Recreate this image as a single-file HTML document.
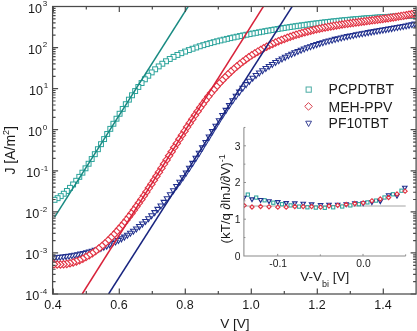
<!DOCTYPE html><html><head><meta charset="utf-8"><style>html,body{margin:0;padding:0;background:#fff;}svg{display:block;filter:blur(0.3px);}text{font-family:"Liberation Sans",sans-serif;fill:#1a1a1a;}</style></head><body>
<svg width="417" height="331" viewBox="0 0 417 331">
<rect width="417" height="331" fill="#fff"/>
<defs><clipPath id="pc"><rect x="52.6" y="6.5" width="363.5" height="287.5"/></clipPath></defs>
<g clip-path="url(#pc)">
<g fill="#fff" stroke="#2aa39b" stroke-width="1">
<rect x="411.59" y="13.24" width="4.9" height="4.9"/>
<rect x="408.99" y="13.33" width="4.9" height="4.9"/>
<rect x="406.39" y="13.43" width="4.9" height="4.9"/>
<rect x="403.79" y="13.53" width="4.9" height="4.9"/>
<rect x="401.19" y="13.64" width="4.9" height="4.9"/>
<rect x="398.59" y="13.75" width="4.9" height="4.9"/>
<rect x="395.99" y="13.87" width="4.9" height="4.9"/>
<rect x="393.39" y="14" width="4.9" height="4.9"/>
<rect x="390.79" y="14.13" width="4.9" height="4.9"/>
<rect x="388.19" y="14.27" width="4.9" height="4.9"/>
<rect x="385.58" y="14.42" width="4.9" height="4.9"/>
<rect x="382.96" y="14.57" width="4.9" height="4.9"/>
<rect x="380.33" y="14.72" width="4.9" height="4.9"/>
<rect x="377.69" y="14.89" width="4.9" height="4.9"/>
<rect x="375.04" y="15.06" width="4.9" height="4.9"/>
<rect x="372.38" y="15.24" width="4.9" height="4.9"/>
<rect x="369.71" y="15.43" width="4.9" height="4.9"/>
<rect x="367.03" y="15.62" width="4.9" height="4.9"/>
<rect x="364.33" y="15.83" width="4.9" height="4.9"/>
<rect x="361.63" y="16.03" width="4.9" height="4.9"/>
<rect x="358.92" y="16.25" width="4.9" height="4.9"/>
<rect x="356.19" y="16.48" width="4.9" height="4.9"/>
<rect x="353.45" y="16.71" width="4.9" height="4.9"/>
<rect x="350.71" y="16.95" width="4.9" height="4.9"/>
<rect x="347.95" y="17.2" width="4.9" height="4.9"/>
<rect x="345.18" y="17.46" width="4.9" height="4.9"/>
<rect x="342.4" y="17.73" width="4.9" height="4.9"/>
<rect x="339.61" y="18" width="4.9" height="4.9"/>
<rect x="336.8" y="18.28" width="4.9" height="4.9"/>
<rect x="333.99" y="18.58" width="4.9" height="4.9"/>
<rect x="331.16" y="18.88" width="4.9" height="4.9"/>
<rect x="328.33" y="19.19" width="4.9" height="4.9"/>
<rect x="325.48" y="19.51" width="4.9" height="4.9"/>
<rect x="322.62" y="19.84" width="4.9" height="4.9"/>
<rect x="319.75" y="20.18" width="4.9" height="4.9"/>
<rect x="316.87" y="20.53" width="4.9" height="4.9"/>
<rect x="313.97" y="20.89" width="4.9" height="4.9"/>
<rect x="311.06" y="21.26" width="4.9" height="4.9"/>
<rect x="308.15" y="21.64" width="4.9" height="4.9"/>
<rect x="305.22" y="22.03" width="4.9" height="4.9"/>
<rect x="302.27" y="22.43" width="4.9" height="4.9"/>
<rect x="299.32" y="22.84" width="4.9" height="4.9"/>
<rect x="296.35" y="23.26" width="4.9" height="4.9"/>
<rect x="293.37" y="23.7" width="4.9" height="4.9"/>
<rect x="290.37" y="24.14" width="4.9" height="4.9"/>
<rect x="287.37" y="24.6" width="4.9" height="4.9"/>
<rect x="284.35" y="25.06" width="4.9" height="4.9"/>
<rect x="281.32" y="25.54" width="4.9" height="4.9"/>
<rect x="278.27" y="26.04" width="4.9" height="4.9"/>
<rect x="275.22" y="26.54" width="4.9" height="4.9"/>
<rect x="272.15" y="27.06" width="4.9" height="4.9"/>
<rect x="269.06" y="27.58" width="4.9" height="4.9"/>
<rect x="265.97" y="28.12" width="4.9" height="4.9"/>
<rect x="262.86" y="28.68" width="4.9" height="4.9"/>
<rect x="259.74" y="29.25" width="4.9" height="4.9"/>
<rect x="256.6" y="29.83" width="4.9" height="4.9"/>
<rect x="253.45" y="30.42" width="4.9" height="4.9"/>
<rect x="250.29" y="31.03" width="4.9" height="4.9"/>
<rect x="247.11" y="31.65" width="4.9" height="4.9"/>
<rect x="243.92" y="32.29" width="4.9" height="4.9"/>
<rect x="240.72" y="32.94" width="4.9" height="4.9"/>
<rect x="237.51" y="33.6" width="4.9" height="4.9"/>
<rect x="234.28" y="34.28" width="4.9" height="4.9"/>
<rect x="231.03" y="34.98" width="4.9" height="4.9"/>
<rect x="227.78" y="35.69" width="4.9" height="4.9"/>
<rect x="224.51" y="36.43" width="4.9" height="4.9"/>
<rect x="221.22" y="37.2" width="4.9" height="4.9"/>
<rect x="217.92" y="38" width="4.9" height="4.9"/>
<rect x="214.59" y="38.84" width="4.9" height="4.9"/>
<rect x="211.21" y="39.73" width="4.9" height="4.9"/>
<rect x="207.79" y="40.66" width="4.9" height="4.9"/>
<rect x="204.34" y="41.65" width="4.9" height="4.9"/>
<rect x="200.83" y="42.71" width="4.9" height="4.9"/>
<rect x="197.29" y="43.82" width="4.9" height="4.9"/>
<rect x="193.71" y="45.02" width="4.9" height="4.9"/>
<rect x="190.07" y="46.29" width="4.9" height="4.9"/>
<rect x="186.38" y="47.65" width="4.9" height="4.9"/>
<rect x="182.63" y="49.12" width="4.9" height="4.9"/>
<rect x="178.82" y="50.72" width="4.9" height="4.9"/>
<rect x="174.96" y="52.49" width="4.9" height="4.9"/>
<rect x="171.08" y="54.43" width="4.9" height="4.9"/>
<rect x="167.28" y="56.53" width="4.9" height="4.9"/>
<rect x="163.54" y="58.81" width="4.9" height="4.9"/>
<rect x="159.86" y="61.28" width="4.9" height="4.9"/>
<rect x="156.25" y="63.96" width="4.9" height="4.9"/>
<rect x="152.7" y="66.84" width="4.9" height="4.9"/>
<rect x="149.22" y="69.95" width="4.9" height="4.9"/>
<rect x="145.8" y="73.29" width="4.9" height="4.9"/>
<rect x="142.43" y="76.85" width="4.9" height="4.9"/>
<rect x="139.12" y="80.6" width="4.9" height="4.9"/>
<rect x="135.88" y="84.53" width="4.9" height="4.9"/>
<rect x="132.69" y="88.62" width="4.9" height="4.9"/>
<rect x="129.55" y="92.84" width="4.9" height="4.9"/>
<rect x="126.45" y="97.2" width="4.9" height="4.9"/>
<rect x="123.35" y="101.75" width="4.9" height="4.9"/>
<rect x="120.25" y="106.47" width="4.9" height="4.9"/>
<rect x="117.15" y="111.31" width="4.9" height="4.9"/>
<rect x="114.05" y="116.27" width="4.9" height="4.9"/>
<rect x="110.95" y="121.31" width="4.9" height="4.9"/>
<rect x="107.85" y="126.4" width="4.9" height="4.9"/>
<rect x="104.75" y="131.52" width="4.9" height="4.9"/>
<rect x="101.65" y="136.63" width="4.9" height="4.9"/>
<rect x="98.55" y="141.73" width="4.9" height="4.9"/>
<rect x="95.45" y="146.77" width="4.9" height="4.9"/>
<rect x="92.35" y="151.73" width="4.9" height="4.9"/>
<rect x="89.25" y="156.58" width="4.9" height="4.9"/>
<rect x="86.15" y="161.3" width="4.9" height="4.9"/>
<rect x="83.05" y="165.86" width="4.9" height="4.9"/>
<rect x="79.95" y="170.23" width="4.9" height="4.9"/>
<rect x="76.85" y="174.4" width="4.9" height="4.9"/>
<rect x="73.75" y="178.33" width="4.9" height="4.9"/>
<rect x="70.65" y="182.01" width="4.9" height="4.9"/>
<rect x="67.55" y="185.41" width="4.9" height="4.9"/>
<rect x="64.45" y="188.51" width="4.9" height="4.9"/>
<rect x="61.35" y="191.28" width="4.9" height="4.9"/>
<rect x="58.25" y="193.69" width="4.9" height="4.9"/>
<rect x="55.15" y="195.73" width="4.9" height="4.9"/>
<rect x="52.05" y="197.38" width="4.9" height="4.9"/>
</g>
<g fill="#fff" stroke="#22318f" stroke-width="1.05">
<path d="M412 22.11L417.7 22.11L414.85 27.11Z"/>
<path d="M409.1 22.73L414.8 22.73L411.95 27.73Z"/>
<path d="M406.2 23.32L411.9 23.32L409.05 28.32Z"/>
<path d="M403.3 23.9L409 23.9L406.15 28.9Z"/>
<path d="M400.4 24.46L406.1 24.46L403.25 29.46Z"/>
<path d="M397.5 25L403.2 25L400.35 30Z"/>
<path d="M394.6 25.54L400.3 25.54L397.45 30.54Z"/>
<path d="M391.7 26.06L397.4 26.06L394.55 31.06Z"/>
<path d="M388.8 26.57L394.5 26.57L391.65 31.57Z"/>
<path d="M385.89 27.08L391.59 27.08L388.74 32.08Z"/>
<path d="M382.98 27.59L388.68 27.59L385.83 32.59Z"/>
<path d="M380.06 28.09L385.76 28.09L382.91 33.09Z"/>
<path d="M377.14 28.59L382.84 28.59L379.99 33.59Z"/>
<path d="M374.2 29.09L379.9 29.09L377.05 34.09Z"/>
<path d="M371.26 29.6L376.96 29.6L374.11 34.6Z"/>
<path d="M368.31 30.11L374.01 30.11L371.16 35.11Z"/>
<path d="M365.35 30.63L371.05 30.63L368.2 35.63Z"/>
<path d="M362.38 31.15L368.08 31.15L365.23 36.15Z"/>
<path d="M359.41 31.69L365.11 31.69L362.26 36.69Z"/>
<path d="M356.43 32.25L362.13 32.25L359.28 37.25Z"/>
<path d="M353.44 32.81L359.14 32.81L356.29 37.81Z"/>
<path d="M350.44 33.4L356.14 33.4L353.29 38.4Z"/>
<path d="M347.44 34L353.14 34L350.29 39Z"/>
<path d="M344.42 34.63L350.12 34.63L347.27 39.63Z"/>
<path d="M341.4 35.28L347.1 35.28L344.25 40.28Z"/>
<path d="M338.37 35.95L344.07 35.95L341.22 40.95Z"/>
<path d="M335.33 36.66L341.03 36.66L338.18 41.66Z"/>
<path d="M332.28 37.39L337.98 37.39L335.13 42.39Z"/>
<path d="M329.23 38.16L334.93 38.16L332.08 43.16Z"/>
<path d="M326.17 38.96L331.87 38.96L329.02 43.96Z"/>
<path d="M323.1 39.8L328.8 39.8L325.95 44.8Z"/>
<path d="M320.02 40.68L325.72 40.68L322.87 45.68Z"/>
<path d="M316.93 41.6L322.63 41.6L319.78 46.6Z"/>
<path d="M313.84 42.57L319.54 42.57L316.69 47.57Z"/>
<path d="M310.73 43.59L316.43 43.59L313.58 48.59Z"/>
<path d="M307.62 44.65L313.32 44.65L310.47 49.65Z"/>
<path d="M304.49 45.77L310.19 45.77L307.34 50.77Z"/>
<path d="M301.36 46.95L307.06 46.95L304.21 51.95Z"/>
<path d="M298.21 48.18L303.91 48.18L301.06 53.18Z"/>
<path d="M295.06 49.48L300.76 49.48L297.91 54.48Z"/>
<path d="M291.9 50.84L297.6 50.84L294.75 55.84Z"/>
<path d="M288.72 52.27L294.42 52.27L291.57 57.27Z"/>
<path d="M285.54 53.77L291.24 53.77L288.39 58.77Z"/>
<path d="M282.34 55.34L288.04 55.34L285.19 60.34Z"/>
<path d="M279.14 56.99L284.84 56.99L281.99 61.99Z"/>
<path d="M275.93 58.72L281.63 58.72L278.78 63.72Z"/>
<path d="M272.7 60.53L278.4 60.53L275.55 65.53Z"/>
<path d="M269.47 62.43L275.17 62.43L272.32 67.43Z"/>
<path d="M266.22 64.42L271.92 64.42L269.07 69.42Z"/>
<path d="M262.97 66.5L268.67 66.5L265.82 71.5Z"/>
<path d="M259.7 68.69L265.4 68.69L262.55 73.69Z"/>
<path d="M256.42 71.02L262.12 71.02L259.27 76.02Z"/>
<path d="M253.14 73.54L258.84 73.54L255.99 78.54Z"/>
<path d="M249.84 76.29L255.54 76.29L252.69 81.29Z"/>
<path d="M246.53 79.32L252.23 79.32L249.38 84.32Z"/>
<path d="M243.22 82.64L248.92 82.64L246.07 87.64Z"/>
<path d="M239.89 86.24L245.59 86.24L242.74 91.24Z"/>
<path d="M236.55 90.12L242.25 90.12L239.4 95.12Z"/>
<path d="M233.2 94.28L238.9 94.28L236.05 99.28Z"/>
<path d="M229.84 98.72L235.54 98.72L232.69 103.72Z"/>
<path d="M226.47 103.42L232.17 103.42L229.32 108.42Z"/>
<path d="M223.09 108.36L228.79 108.36L225.94 113.36Z"/>
<path d="M219.7 113.5L225.4 113.5L222.55 118.5Z"/>
<path d="M216.3 118.8L222 118.8L219.15 123.8Z"/>
<path d="M212.92 124.19L218.62 124.19L215.77 129.19Z"/>
<path d="M209.56 129.62L215.26 129.62L212.41 134.62Z"/>
<path d="M206.21 135.08L211.91 135.08L209.06 140.08Z"/>
<path d="M202.89 140.51L208.59 140.51L205.74 145.51Z"/>
<path d="M199.57 145.88L205.27 145.88L202.42 150.88Z"/>
<path d="M196.28 151.17L201.98 151.17L199.13 156.17Z"/>
<path d="M193 156.34L198.7 156.34L195.85 161.34Z"/>
<path d="M189.74 161.38L195.44 161.38L192.59 166.38Z"/>
<path d="M186.49 166.28L192.19 166.28L189.34 171.28Z"/>
<path d="M183.26 171.05L188.96 171.05L186.11 176.05Z"/>
<path d="M180.04 175.69L185.74 175.69L182.89 180.69Z"/>
<path d="M176.85 180.18L182.55 180.18L179.7 185.18Z"/>
<path d="M173.66 184.52L179.36 184.52L176.51 189.52Z"/>
<path d="M170.5 188.72L176.2 188.72L173.35 193.72Z"/>
<path d="M167.35 192.76L173.05 192.76L170.2 197.76Z"/>
<path d="M164.21 196.65L169.91 196.65L167.06 201.65Z"/>
<path d="M161.09 200.38L166.79 200.38L163.94 205.38Z"/>
<path d="M157.99 203.95L163.69 203.95L160.84 208.95Z"/>
<path d="M154.89 207.37L160.59 207.37L157.74 212.37Z"/>
<path d="M151.81 210.62L157.51 210.62L154.66 215.62Z"/>
<path d="M148.74 213.71L154.44 213.71L151.59 218.71Z"/>
<path d="M145.68 216.65L151.38 216.65L148.53 221.65Z"/>
<path d="M142.63 219.43L148.33 219.43L145.48 224.43Z"/>
<path d="M139.58 222.07L145.28 222.07L142.43 227.07Z"/>
<path d="M136.55 224.57L142.25 224.57L139.4 229.57Z"/>
<path d="M133.53 226.93L139.23 226.93L136.38 231.93Z"/>
<path d="M130.52 229.16L136.22 229.16L133.37 234.16Z"/>
<path d="M127.52 231.27L133.22 231.27L130.37 236.27Z"/>
<path d="M124.53 233.25L130.23 233.25L127.38 238.25Z"/>
<path d="M121.55 235.12L127.25 235.12L124.4 240.12Z"/>
<path d="M118.58 236.87L124.28 236.87L121.43 241.87Z"/>
<path d="M115.61 238.52L121.31 238.52L118.46 243.52Z"/>
<path d="M112.66 240.06L118.36 240.06L115.51 245.06Z"/>
<path d="M109.72 241.51L115.42 241.51L112.57 246.51Z"/>
<path d="M106.79 242.86L112.49 242.86L109.64 247.86Z"/>
<path d="M103.87 244.12L109.57 244.12L106.72 249.12Z"/>
<path d="M100.95 245.29L106.65 245.29L103.8 250.29Z"/>
<path d="M98.05 246.38L103.75 246.38L100.9 251.38Z"/>
<path d="M95.15 247.4L100.85 247.4L98 252.4Z"/>
<path d="M92.25 248.34L97.95 248.34L95.1 253.34Z"/>
<path d="M89.35 249.22L95.05 249.22L92.2 254.22Z"/>
<path d="M86.45 250.03L92.15 250.03L89.3 255.03Z"/>
<path d="M83.55 250.78L89.25 250.78L86.4 255.78Z"/>
<path d="M80.65 251.47L86.35 251.47L83.5 256.47Z"/>
<path d="M77.75 252.1L83.45 252.1L80.6 257.1Z"/>
<path d="M74.85 252.69L80.55 252.69L77.7 257.69Z"/>
<path d="M71.95 253.22L77.65 253.22L74.8 258.22Z"/>
<path d="M69.05 253.71L74.75 253.71L71.9 258.71Z"/>
<path d="M66.15 254.16L71.85 254.16L69 259.16Z"/>
<path d="M63.25 254.57L68.95 254.57L66.1 259.57Z"/>
<path d="M60.35 254.94L66.05 254.94L63.2 259.94Z"/>
<path d="M57.45 255.28L63.15 255.28L60.3 260.28Z"/>
<path d="M54.55 255.59L60.25 255.59L57.4 260.59Z"/>
<path d="M51.65 255.87L57.35 255.87L54.5 260.87Z"/>
</g>
<g fill="#fff" stroke="#e23444" stroke-width="1.15">
<path d="M414.09 9.96L417.79 13.66L414.09 17.36L410.39 13.66Z"/>
<path d="M411.49 10.49L415.19 14.19L411.49 17.89L407.79 14.19Z"/>
<path d="M408.89 11L412.59 14.7L408.89 18.4L405.19 14.7Z"/>
<path d="M406.29 11.49L409.99 15.19L406.29 18.89L402.59 15.19Z"/>
<path d="M403.69 11.96L407.39 15.66L403.69 19.36L399.99 15.66Z"/>
<path d="M401.09 12.41L404.79 16.11L401.09 19.81L397.39 16.11Z"/>
<path d="M398.49 12.85L402.19 16.55L398.49 20.25L394.79 16.55Z"/>
<path d="M395.89 13.27L399.59 16.97L395.89 20.67L392.19 16.97Z"/>
<path d="M393.29 13.67L396.99 17.37L393.29 21.07L389.59 17.37Z"/>
<path d="M390.69 14.07L394.39 17.77L390.69 21.47L386.99 17.77Z"/>
<path d="M388.08 14.45L391.78 18.15L388.08 21.85L384.38 18.15Z"/>
<path d="M385.46 14.83L389.16 18.53L385.46 22.23L381.76 18.53Z"/>
<path d="M382.83 15.2L386.53 18.9L382.83 22.6L379.13 18.9Z"/>
<path d="M380.19 15.57L383.89 19.27L380.19 22.97L376.49 19.27Z"/>
<path d="M377.54 15.92L381.24 19.62L377.54 23.32L373.84 19.62Z"/>
<path d="M374.88 16.28L378.58 19.98L374.88 23.68L371.18 19.98Z"/>
<path d="M372.21 16.63L375.91 20.33L372.21 24.03L368.51 20.33Z"/>
<path d="M369.53 16.99L373.23 20.69L369.53 24.39L365.83 20.69Z"/>
<path d="M366.84 17.34L370.54 21.04L366.84 24.74L363.14 21.04Z"/>
<path d="M364.13 17.7L367.83 21.4L364.13 25.1L360.43 21.4Z"/>
<path d="M361.42 18.05L365.12 21.75L361.42 25.45L357.72 21.75Z"/>
<path d="M358.69 18.42L362.39 22.12L358.69 25.82L354.99 22.12Z"/>
<path d="M355.96 18.79L359.66 22.49L355.96 26.19L352.26 22.49Z"/>
<path d="M353.21 19.17L356.91 22.87L353.21 26.57L349.51 22.87Z"/>
<path d="M350.45 19.56L354.15 23.26L350.45 26.96L346.75 23.26Z"/>
<path d="M347.68 19.95L351.38 23.65L347.68 27.35L343.98 23.65Z"/>
<path d="M344.9 20.37L348.6 24.07L344.9 27.77L341.2 24.07Z"/>
<path d="M342.11 20.79L345.81 24.49L342.11 28.19L338.41 24.49Z"/>
<path d="M339.31 21.24L343.01 24.94L339.31 28.64L335.61 24.94Z"/>
<path d="M336.49 21.7L340.19 25.4L336.49 29.1L332.79 25.4Z"/>
<path d="M333.67 22.18L337.37 25.88L333.67 29.58L329.97 25.88Z"/>
<path d="M330.83 22.68L334.53 26.38L330.83 30.08L327.13 26.38Z"/>
<path d="M327.98 23.21L331.68 26.91L327.98 30.61L324.28 26.91Z"/>
<path d="M325.12 23.76L328.82 27.46L325.12 31.16L321.42 27.46Z"/>
<path d="M322.25 24.34L325.95 28.04L322.25 31.74L318.55 28.04Z"/>
<path d="M319.37 24.95L323.07 28.65L319.37 32.35L315.67 28.65Z"/>
<path d="M316.48 25.6L320.18 29.3L316.48 33L312.78 29.3Z"/>
<path d="M313.57 26.27L317.27 29.97L313.57 33.67L309.87 29.97Z"/>
<path d="M310.67 26.98L314.37 30.68L310.67 34.38L306.97 30.68Z"/>
<path d="M307.76 27.73L311.46 31.43L307.76 35.13L304.06 31.43Z"/>
<path d="M304.85 28.51L308.55 32.21L304.85 35.91L301.15 32.21Z"/>
<path d="M301.93 29.33L305.63 33.03L301.93 36.73L298.23 33.03Z"/>
<path d="M299.01 30.2L302.71 33.9L299.01 37.6L295.31 33.9Z"/>
<path d="M296.08 31.1L299.78 34.8L296.08 38.5L292.38 34.8Z"/>
<path d="M293.15 32.06L296.85 35.76L293.15 39.46L289.45 35.76Z"/>
<path d="M290.22 33.06L293.92 36.76L290.22 40.46L286.52 36.76Z"/>
<path d="M287.28 34.11L290.98 37.81L287.28 41.51L283.58 37.81Z"/>
<path d="M284.34 35.22L288.04 38.92L284.34 42.62L280.64 38.92Z"/>
<path d="M281.4 36.37L285.1 40.07L281.4 43.77L277.7 40.07Z"/>
<path d="M278.45 37.59L282.15 41.29L278.45 44.99L274.75 41.29Z"/>
<path d="M275.5 38.86L279.2 42.56L275.5 46.26L271.8 42.56Z"/>
<path d="M272.54 40.19L276.24 43.89L272.54 47.59L268.84 43.89Z"/>
<path d="M269.58 41.59L273.28 45.29L269.58 48.99L265.88 45.29Z"/>
<path d="M266.61 43.06L270.31 46.76L266.61 50.46L262.91 46.76Z"/>
<path d="M263.65 44.6L267.35 48.3L263.65 52L259.95 48.3Z"/>
<path d="M260.67 46.23L264.37 49.93L260.67 53.63L256.97 49.93Z"/>
<path d="M257.7 47.95L261.4 51.65L257.7 55.35L254 51.65Z"/>
<path d="M254.72 49.75L258.42 53.45L254.72 57.15L251.02 53.45Z"/>
<path d="M251.73 51.65L255.43 55.35L251.73 59.05L248.03 55.35Z"/>
<path d="M248.74 53.65L252.44 57.35L248.74 61.05L245.04 57.35Z"/>
<path d="M245.75 55.76L249.45 59.46L245.75 63.16L242.05 59.46Z"/>
<path d="M242.75 57.98L246.45 61.68L242.75 65.38L239.05 61.68Z"/>
<path d="M239.76 60.32L243.46 64.02L239.76 67.72L236.06 64.02Z"/>
<path d="M236.78 62.76L240.48 66.46L236.78 70.16L233.08 66.46Z"/>
<path d="M233.83 65.29L237.53 68.99L233.83 72.69L230.13 68.99Z"/>
<path d="M230.9 67.93L234.6 71.63L230.9 75.33L227.2 71.63Z"/>
<path d="M228 70.68L231.7 74.38L228 78.08L224.3 74.38Z"/>
<path d="M225.12 73.53L228.82 77.23L225.12 80.93L221.42 77.23Z"/>
<path d="M222.26 76.49L225.96 80.19L222.26 83.89L218.56 80.19Z"/>
<path d="M219.43 79.55L223.13 83.25L219.43 86.95L215.73 83.25Z"/>
<path d="M216.61 82.73L220.31 86.43L216.61 90.13L212.91 86.43Z"/>
<path d="M213.82 86.01L217.52 89.71L213.82 93.41L210.12 89.71Z"/>
<path d="M211.05 89.41L214.75 93.11L211.05 96.81L207.35 93.11Z"/>
<path d="M208.31 92.91L212.01 96.61L208.31 100.31L204.61 96.61Z"/>
<path d="M205.58 96.5L209.28 100.2L205.58 103.9L201.88 100.2Z"/>
<path d="M202.88 100.18L206.58 103.88L202.88 107.58L199.18 103.88Z"/>
<path d="M200.2 103.92L203.9 107.62L200.2 111.32L196.5 107.62Z"/>
<path d="M197.54 107.73L201.24 111.43L197.54 115.13L193.84 111.43Z"/>
<path d="M194.9 111.59L198.6 115.29L194.9 118.99L191.2 115.29Z"/>
<path d="M192.28 115.49L195.98 119.19L192.28 122.89L188.58 119.19Z"/>
<path d="M189.68 119.43L193.38 123.13L189.68 126.83L185.98 123.13Z"/>
<path d="M187.09 123.42L190.79 127.12L187.09 130.82L183.39 127.12Z"/>
<path d="M184.5 127.45L188.2 131.15L184.5 134.85L180.8 131.15Z"/>
<path d="M181.92 131.51L185.62 135.21L181.92 138.91L178.22 135.21Z"/>
<path d="M179.34 135.6L183.04 139.3L179.34 143L175.64 139.3Z"/>
<path d="M176.77 139.72L180.47 143.42L176.77 147.12L173.07 143.42Z"/>
<path d="M174.2 143.84L177.9 147.54L174.2 151.24L170.5 147.54Z"/>
<path d="M171.64 147.98L175.34 151.68L171.64 155.38L167.94 151.68Z"/>
<path d="M169.09 152.11L172.79 155.81L169.09 159.51L165.39 155.81Z"/>
<path d="M166.54 156.24L170.24 159.94L166.54 163.64L162.84 159.94Z"/>
<path d="M163.99 160.35L167.69 164.05L163.99 167.75L160.29 164.05Z"/>
<path d="M161.45 164.44L165.15 168.14L161.45 171.84L157.75 168.14Z"/>
<path d="M158.92 168.51L162.62 172.21L158.92 175.91L155.22 172.21Z"/>
<path d="M156.39 172.55L160.09 176.25L156.39 179.95L152.69 176.25Z"/>
<path d="M153.87 176.54L157.57 180.24L153.87 183.94L150.17 180.24Z"/>
<path d="M151.35 180.49L155.05 184.19L151.35 187.89L147.65 184.19Z"/>
<path d="M148.84 184.39L152.54 188.09L148.84 191.79L145.14 188.09Z"/>
<path d="M146.33 188.23L150.03 191.93L146.33 195.63L142.63 191.93Z"/>
<path d="M143.83 192.01L147.53 195.71L143.83 199.41L140.13 195.71Z"/>
<path d="M141.34 195.71L145.04 199.41L141.34 203.11L137.64 199.41Z"/>
<path d="M138.85 199.35L142.55 203.05L138.85 206.75L135.15 203.05Z"/>
<path d="M136.36 202.9L140.06 206.6L136.36 210.3L132.66 206.6Z"/>
<path d="M133.88 206.36L137.58 210.06L133.88 213.76L130.18 210.06Z"/>
<path d="M131.41 209.73L135.11 213.43L131.41 217.13L127.71 213.43Z"/>
<path d="M128.94 213.01L132.64 216.71L128.94 220.41L125.24 216.71Z"/>
<path d="M126.47 216.19L130.17 219.89L126.47 223.59L122.77 219.89Z"/>
<path d="M124.02 219.26L127.72 222.96L124.02 226.66L120.32 222.96Z"/>
<path d="M121.56 222.24L125.26 225.94L121.56 229.64L117.86 225.94Z"/>
<path d="M119.08 225.15L122.78 228.85L119.08 232.55L115.38 228.85Z"/>
<path d="M116.5 228.07L120.2 231.77L116.5 235.47L112.8 231.77Z"/>
<path d="M113.81 230.98L117.51 234.68L113.81 238.38L110.11 234.68Z"/>
<path d="M111.03 233.88L114.73 237.58L111.03 241.28L107.33 237.58Z"/>
<path d="M108.13 236.74L111.83 240.44L108.13 244.14L104.43 240.44Z"/>
<path d="M105.13 239.54L108.83 243.24L105.13 246.94L101.43 243.24Z"/>
<path d="M102 242.28L105.7 245.98L102 249.68L98.3 245.98Z"/>
<path d="M98.8 244.9L102.5 248.6L98.8 252.3L95.1 248.6Z"/>
<path d="M95.6 247.32L99.3 251.02L95.6 254.72L91.9 251.02Z"/>
<path d="M92.4 249.54L96.1 253.24L92.4 256.94L88.7 253.24Z"/>
<path d="M89.2 251.57L92.9 255.27L89.2 258.97L85.5 255.27Z"/>
<path d="M86 253.4L89.7 257.1L86 260.8L82.3 257.1Z"/>
<path d="M82.8 255.03L86.5 258.73L82.8 262.43L79.1 258.73Z"/>
<path d="M79.6 256.47L83.3 260.17L79.6 263.87L75.9 260.17Z"/>
<path d="M76.4 257.7L80.1 261.4L76.4 265.1L72.7 261.4Z"/>
<path d="M73.2 258.73L76.9 262.43L73.2 266.13L69.5 262.43Z"/>
<path d="M70 259.56L73.7 263.26L70 266.96L66.3 263.26Z"/>
<path d="M66.8 260.18L70.5 263.88L66.8 267.58L63.1 263.88Z"/>
<path d="M63.6 260.6L67.3 264.3L63.6 268L59.9 264.3Z"/>
<path d="M60.4 260.81L64.1 264.51L60.4 268.21L56.7 264.51Z"/>
<path d="M57.2 260.82L60.9 264.52L57.2 268.22L53.5 264.52Z"/>
<path d="M54 260.62L57.7 264.32L54 268.02L50.3 264.32Z"/>
</g>
<line x1="54.6" y1="217.2" x2="188.3" y2="6.3" stroke="#188a82" stroke-width="1.5"/>
<line x1="82.2" y1="294" x2="263.5" y2="6.3" stroke="#d8223a" stroke-width="1.5"/>
<line x1="108.6" y1="294" x2="292.3" y2="6.3" stroke="#18247f" stroke-width="1.5"/>
</g>
<g stroke="#4a4a4a" stroke-width="1.25" fill="none">
<rect x="52.6" y="6.5" width="363.5" height="287.5"/>
<path d="M53.3 294.0v-5.5M53.3 6.5v5.5M86.3 294.0v-3M86.3 6.5v3M119.3 294.0v-5.5M119.3 6.5v5.5M152.3 294.0v-3M152.3 6.5v3M185.3 294.0v-5.5M185.3 6.5v5.5M218.3 294.0v-3M218.3 6.5v3M251.3 294.0v-5.5M251.3 6.5v5.5M284.3 294.0v-3M284.3 6.5v3M317.3 294.0v-5.5M317.3 6.5v5.5M350.3 294.0v-3M350.3 6.5v3M383.3 294.0v-5.5M383.3 6.5v5.5M52.6 293.99h5.5M416.1 293.99h-5.5M52.6 281.63h3M416.1 281.63h-3M52.6 274.39h3M416.1 274.39h-3M52.6 269.26h3M416.1 269.26h-3M52.6 265.28h3M416.1 265.28h-3M52.6 262.03h3M416.1 262.03h-3M52.6 259.28h3M416.1 259.28h-3M52.6 256.9h3M416.1 256.9h-3M52.6 254.8h3M416.1 254.8h-3M52.6 252.92h5.5M416.1 252.92h-5.5M52.6 240.56h3M416.1 240.56h-3M52.6 233.32h3M416.1 233.32h-3M52.6 228.19h3M416.1 228.19h-3M52.6 224.21h3M416.1 224.21h-3M52.6 220.96h3M416.1 220.96h-3M52.6 218.21h3M416.1 218.21h-3M52.6 215.83h3M416.1 215.83h-3M52.6 213.73h3M416.1 213.73h-3M52.6 211.85h5.5M416.1 211.85h-5.5M52.6 199.49h3M416.1 199.49h-3M52.6 192.25h3M416.1 192.25h-3M52.6 187.12h3M416.1 187.12h-3M52.6 183.14h3M416.1 183.14h-3M52.6 179.89h3M416.1 179.89h-3M52.6 177.14h3M416.1 177.14h-3M52.6 174.76h3M416.1 174.76h-3M52.6 172.66h3M416.1 172.66h-3M52.6 170.78h5.5M416.1 170.78h-5.5M52.6 158.42h3M416.1 158.42h-3M52.6 151.18h3M416.1 151.18h-3M52.6 146.05h3M416.1 146.05h-3M52.6 142.07h3M416.1 142.07h-3M52.6 138.82h3M416.1 138.82h-3M52.6 136.07h3M416.1 136.07h-3M52.6 133.69h3M416.1 133.69h-3M52.6 131.59h3M416.1 131.59h-3M52.6 129.71h5.5M416.1 129.71h-5.5M52.6 117.35h3M416.1 117.35h-3M52.6 110.11h3M416.1 110.11h-3M52.6 104.98h3M416.1 104.98h-3M52.6 101h3M416.1 101h-3M52.6 97.75h3M416.1 97.75h-3M52.6 95h3M416.1 95h-3M52.6 92.62h3M416.1 92.62h-3M52.6 90.52h3M416.1 90.52h-3M52.6 88.64h5.5M416.1 88.64h-5.5M52.6 76.28h3M416.1 76.28h-3M52.6 69.04h3M416.1 69.04h-3M52.6 63.91h3M416.1 63.91h-3M52.6 59.93h3M416.1 59.93h-3M52.6 56.68h3M416.1 56.68h-3M52.6 53.93h3M416.1 53.93h-3M52.6 51.55h3M416.1 51.55h-3M52.6 49.45h3M416.1 49.45h-3M52.6 47.57h5.5M416.1 47.57h-5.5M52.6 35.21h3M416.1 35.21h-3M52.6 27.97h3M416.1 27.97h-3M52.6 22.84h3M416.1 22.84h-3M52.6 18.86h3M416.1 18.86h-3M52.6 15.61h3M416.1 15.61h-3M52.6 12.86h3M416.1 12.86h-3M52.6 10.48h3M416.1 10.48h-3M52.6 8.38h3M416.1 8.38h-3M52.6 6.5h5.5M416.1 6.5h-5.5" stroke-width="1.2"/>
</g>
<g font-size="12.5" text-anchor="middle">
<text x="53" y="309">0.4</text>
<text x="119" y="309">0.6</text>
<text x="185" y="309">0.8</text>
<text x="251" y="309">1.0</text>
<text x="317" y="309">1.2</text>
<text x="383" y="309">1.4</text>
</g>
<g font-size="12.6" text-anchor="end">
<text x="47.2" y="300.19">10<tspan dx="0.8" dy="-6.4" font-size="8">-4</tspan></text>
<text x="47.2" y="259.12">10<tspan dx="0.8" dy="-6.4" font-size="8">-3</tspan></text>
<text x="47.2" y="218.05">10<tspan dx="0.8" dy="-6.4" font-size="8">-2</tspan></text>
<text x="48.2" y="176.98">10<tspan dx="0.8" dy="-6.4" font-size="8">-1</tspan></text>
<text x="47.2" y="135.91">10<tspan dx="0.8" dy="-6.4" font-size="8">0</tspan></text>
<text x="48.2" y="94.84">10<tspan dx="0.8" dy="-6.4" font-size="8">1</tspan></text>
<text x="47.2" y="53.77">10<tspan dx="0.8" dy="-6.4" font-size="8">2</tspan></text>
<text x="47.2" y="12.7">10<tspan dx="0.8" dy="-6.4" font-size="8">3</tspan></text>
</g>
<text x="220.2" y="327.8" font-size="13.6">V [V]</text>
<text transform="translate(14.8,174.6) rotate(-90)" font-size="14">J [A/m<tspan dy="-5.5" font-size="9">2</tspan><tspan dy="5.5">]</tspan></text>
<g fill="none" stroke-width="1">
<rect x="306.1" y="87" width="5.2" height="5.2" stroke="#4aaca4"/>
<path stroke="#d8404e" d="M308.5 102.6L312.3 106.4L308.5 110.2L304.7 106.4Z"/>
<path stroke="#3a4496" d="M305.7 121.21L311.5 121.21L308.6 126.52Z"/>
</g>
<g font-size="14">
<text x="328.6" y="93.8">PCPDTBT</text>
<text x="328.6" y="111.7">MEH-PPV</text>
<text x="328.6" y="128">PF10TBT</text>
</g>
<line x1="243.9" y1="206" x2="405.7" y2="206" stroke="#9a9a9a" stroke-width="0.9"/>
<defs><clipPath id="ic"><rect x="243.9" y="120" width="164.8" height="136"/></clipPath></defs><g clip-path="url(#ic)">
<g fill="#fff" stroke="#2aa39b" stroke-width="1.05">
<rect x="246.2" y="193" width="3.2" height="3.2"/>
<rect x="254.6" y="196" width="3.2" height="3.2"/>
<rect x="263" y="198.7" width="3.2" height="3.2"/>
<rect x="271.7" y="201.1" width="3.2" height="3.2"/>
<rect x="280.4" y="202.6" width="3.2" height="3.2"/>
<rect x="289" y="203.8" width="3.2" height="3.2"/>
<rect x="297.4" y="205" width="3.2" height="3.2"/>
<rect x="305.8" y="205.7" width="3.2" height="3.2"/>
<rect x="314.2" y="206" width="3.2" height="3.2"/>
<rect x="323.2" y="206.2" width="3.2" height="3.2"/>
<rect x="331.6" y="205.7" width="3.2" height="3.2"/>
<rect x="340.6" y="204.9" width="3.2" height="3.2"/>
<rect x="348.7" y="203.8" width="3.2" height="3.2"/>
<rect x="357.3" y="202.6" width="3.2" height="3.2"/>
<rect x="365.8" y="200.8" width="3.2" height="3.2"/>
<rect x="374.4" y="199" width="3.2" height="3.2"/>
<rect x="382.9" y="195.9" width="3.2" height="3.2"/>
<rect x="391.3" y="192.7" width="3.2" height="3.2"/>
<rect x="399.9" y="189.1" width="3.2" height="3.2"/>
</g>
<g fill="#fff" stroke="#22318f" stroke-width="1.15">
<path d="M241.6 196.29L246 196.29L243.8 200.09Z"/>
<path d="M249.8 197.89L254.2 197.89L252 201.69Z"/>
<path d="M258.4 198.49L262.8 198.49L260.6 202.29Z"/>
<path d="M266.8 199.79L271.2 199.79L269 203.59Z"/>
<path d="M275.6 200.69L280 200.69L277.8 204.49Z"/>
<path d="M284 201.59L288.4 201.59L286.2 205.39Z"/>
<path d="M292.6 201.89L297 201.89L294.8 205.69Z"/>
<path d="M301 202.29L305.4 202.29L303.2 206.09Z"/>
<path d="M309.4 202.89L313.8 202.89L311.6 206.69Z"/>
<path d="M318.4 203.49L322.8 203.49L320.6 207.29Z"/>
<path d="M326.8 203.29L331.2 203.29L329 207.09Z"/>
<path d="M335.5 203.29L339.9 203.29L337.7 207.09Z"/>
<path d="M344 202.79L348.4 202.79L346.2 206.59Z"/>
<path d="M352.6 201.89L357 201.89L354.8 205.69Z"/>
<path d="M361 201.79L365.4 201.79L363.2 205.59Z"/>
<path d="M369.7 200.69L374.1 200.69L371.9 204.49Z"/>
<path d="M378.1 199.79L382.5 199.79L380.3 203.59Z"/>
<path d="M386.4 193.79L390.8 193.79L388.6 197.59Z"/>
<path d="M394.8 194.29L399.2 194.29L397 198.09Z"/>
<path d="M402.6 186.29L407 186.29L404.8 190.09Z"/>
</g>
<g fill="#fff" stroke="#e23444" stroke-width="1.15">
<path d="M244.2 203.3L246.3 205.4L244.2 207.5L242.1 205.4Z"/>
<path d="M252 204.9L254.1 207L252 209.1L249.9 207Z"/>
<path d="M260.6 204.4L262.7 206.5L260.6 208.6L258.5 206.5Z"/>
<path d="M269 204.7L271.1 206.8L269 208.9L266.9 206.8Z"/>
<path d="M277.8 205.1L279.9 207.2L277.8 209.3L275.7 207.2Z"/>
<path d="M286.2 205.1L288.3 207.2L286.2 209.3L284.1 207.2Z"/>
<path d="M294.8 204.4L296.9 206.5L294.8 208.6L292.7 206.5Z"/>
<path d="M303.2 204.5L305.3 206.6L303.2 208.7L301.1 206.6Z"/>
<path d="M311.6 204.5L313.7 206.6L311.6 208.7L309.5 206.6Z"/>
<path d="M320.6 205.1L322.7 207.2L320.6 209.3L318.5 207.2Z"/>
<path d="M329 203.9L331.1 206L329 208.1L326.9 206Z"/>
<path d="M337.7 203.2L339.8 205.3L337.7 207.4L335.6 205.3Z"/>
<path d="M346.2 202.3L348.3 204.4L346.2 206.5L344.1 204.4Z"/>
<path d="M354.8 201.4L356.9 203.5L354.8 205.6L352.7 203.5Z"/>
<path d="M363.2 200.8L365.3 202.9L363.2 205L361.1 202.9Z"/>
<path d="M371.9 198.7L374 200.8L371.9 202.9L369.8 200.8Z"/>
<path d="M380.3 196.9L382.4 199L380.3 201.1L378.2 199Z"/>
<path d="M388.6 195.4L390.7 197.5L388.6 199.6L386.5 197.5Z"/>
<path d="M397 191.9L399.1 194L397 196.1L394.9 194Z"/>
<path d="M405.1 189.1L407.2 191.2L405.1 193.3L403 191.2Z"/>
</g></g>
<g stroke="#8a8a8a" stroke-width="1.05" fill="none">
<path d="M243.9 127.45V255.9H405.7"/>
<path d="M243.9 237.55h1.5M243.9 219.2h2M243.9 200.85h1.5M243.9 182.5h2M243.9 164.15h1.5M243.9 145.8h2M243.9 127.45h1.5M277.7 255.9v-2M320.35 255.9v-1.5M363 255.9v-2M405.65 255.9v-1.5" stroke-width="1"/>
</g>
<g font-size="10.3" text-anchor="end">
<text x="240.6" y="259.6">0</text>
<text x="240.6" y="222.9">1</text>
<text x="240.6" y="186.2">2</text>
<text x="240.6" y="149.5">3</text>
</g>
<g font-size="10.3" text-anchor="middle">
<text x="278.2" y="267">-0.1</text>
<text x="363.5" y="267">0.0</text>
</g>
<text x="300.3" y="281.2" font-size="13.5">V-V<tspan dy="5.3" font-size="9">bi</tspan><tspan dy="-5.3"> [V]</tspan></text>
<text transform="translate(230.2,243.4) rotate(-90)" font-size="13.3">(kT/q <tspan font-style="italic">&#8706;</tspan>lnJ/<tspan font-style="italic">&#8706;</tspan>V)<tspan dy="-5" font-size="9">-1</tspan></text>
</svg></body></html>
